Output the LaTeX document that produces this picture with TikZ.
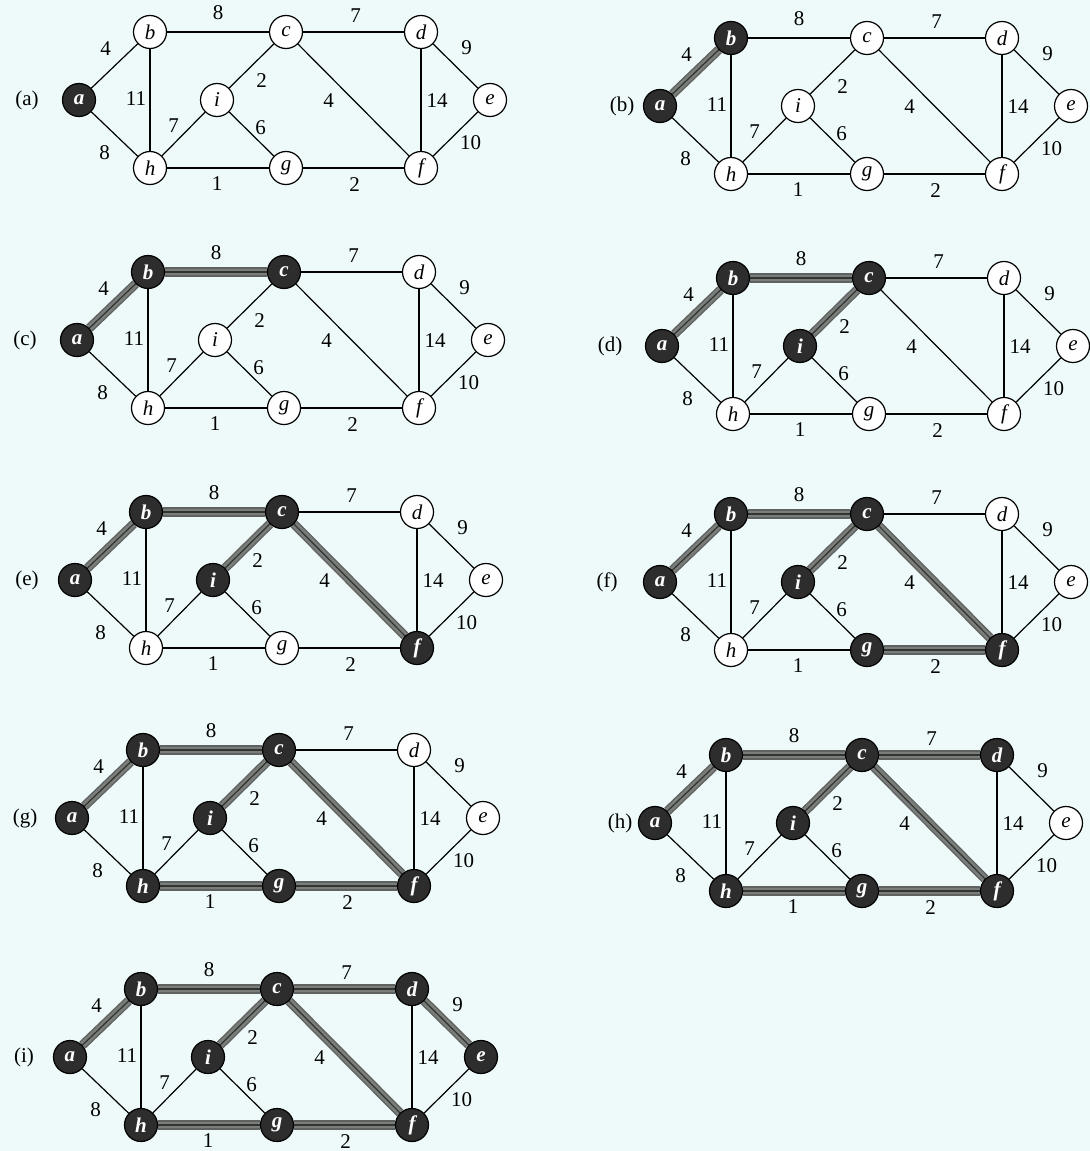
\documentclass[tikz,border=0pt]{standalone}
\usepackage{fontspec}
\setmainfont{Liberation Serif}

\definecolor{pagebg}{RGB}{238,250,250}
\definecolor{vtxdark}{RGB}{45,45,45}
\definecolor{treeout}{RGB}{95,98,96}
\definecolor{treein}{RGB}{122,126,123}
\definecolor{treemid}{RGB}{50,52,50}

\pgfdeclarelayer{pagefill}
\pgfdeclarelayer{edges}
\pgfsetlayers{pagefill,edges,main}

\tikzset{
  vwhite/.style={circle, draw, line width=0.6pt, fill=white, minimum size=16.5pt, inner sep=0pt,
    font=\fontsize{10.5}{12}\selectfont\itshape},
  vblack/.style={vwhite, fill=vtxdark, text=white, font=\fontsize{10.5}{12}\selectfont\bfseries\itshape},
  vx-a/.style=vwhite, vx-b/.style=vwhite, vx-c/.style=vwhite,
  vx-d/.style=vwhite, vx-e/.style=vwhite, vx-f/.style=vwhite,
  vx-g/.style=vwhite, vx-h/.style=vwhite, vx-i/.style=vwhite,
  on/.style={vx-#1/.style=vblack},
  edge/.style={line width=0.6pt},
  tree/.style={line width=4.6pt, draw=treeout,
    postaction={draw=treein, line width=3.2pt},
    postaction={draw=treemid, line width=0.6pt}},
  wlbl/.style={font=\fontsize{10.5}{12}\selectfont, inner sep=0pt},
  plbl/.style={font=\fontsize{10.5}{12}\selectfont, inner sep=0pt}
}

% one stage of the tree: name, x, y, label offset, black vertices, tree edges
\newcommand\mstpanel[6]{%
\begin{scope}[shift={(#2,#3)}, on/.list={#5}]
  \node[vx-a] (p#1-a) at (0,0) {a};
  \node[vx-b] (p#1-b) at (71,-68) {b};
  \node[vx-c] (p#1-c) at (207,-68) {c};
  \node[vx-d] (p#1-d) at (342,-68) {d};
  \node[vx-e] (p#1-e) at (411,0) {e};
  \node[vx-f] (p#1-f) at (342,68) {f};
  \node[vx-g] (p#1-g) at (207,68) {g};
  \node[vx-h] (p#1-h) at (71,68) {h};
  \node[vx-i] (p#1-i) at (138,0) {i};
  \node[plbl] (p#1-lbl) at (#4,0) {(#1)};
  \begin{pgfonlayer}{edges}
    \foreach \u/\v/\w/\dx/\dy in {a/b/4/-9/-17, b/c/8/0/-19, c/d/7/2/-16, d/e/9/11/-18,
        e/f/10/15/9, d/f/14/16/1, c/f/4/-25/1, g/f/2/1/17, h/g/1/-1/16,
        h/i/7/-10/-8, i/g/6/9/-6, i/c/2/10/15, b/h/11/-14/-1, a/h/8/-10/19}
      \draw[edge] (p#1-\u) -- node[wlbl, shift={(\dx,\dy)}] {\w} (p#1-\v);
    \ifx\relax#6\relax\else
      \foreach \u/\v in {#6} \draw[tree] (p#1-\u) -- (p#1-\v);
    \fi
  \end{pgfonlayer}
\end{scope}}

\begin{document}
\begin{tikzpicture}[x=0.5pt, y=-0.5pt]
  \useasboundingbox (0,0) rectangle (1090,1151);
  \begin{pgfonlayer}{pagefill}
    \fill[pagebg] (0,0) rectangle (1090,1151);
  \end{pgfonlayer}

  % Stages
  \mstpanel{a}{79}{100}{-52}{a}{}
  \mstpanel{b}{660}{106}{-38}{a,b}{a/b}
  \mstpanel{c}{77}{340}{-52}{a,b,c}{a/b,b/c}
  \mstpanel{d}{662}{346}{-52}{a,b,c,i}{a/b,b/c,i/c}
  \mstpanel{e}{75}{580}{-48}{a,b,c,i,f}{a/b,b/c,i/c,c/f}
  \mstpanel{f}{660}{582}{-53}{a,b,c,i,f,g}{a/b,b/c,i/c,c/f,g/f}
  \mstpanel{g}{72}{818}{-47}{a,b,c,i,f,g,h}{a/b,b/c,i/c,c/f,g/f,h/g}
  \mstpanel{h}{655}{823}{-35}{a,b,c,i,f,g,h,d}{a/b,b/c,i/c,c/f,g/f,h/g,c/d}
  \mstpanel{i}{70}{1057}{-46}{a,b,c,i,f,g,h,d,e}{a/b,b/c,i/c,c/f,g/f,h/g,c/d,d/e}
\end{tikzpicture}
\end{document}
